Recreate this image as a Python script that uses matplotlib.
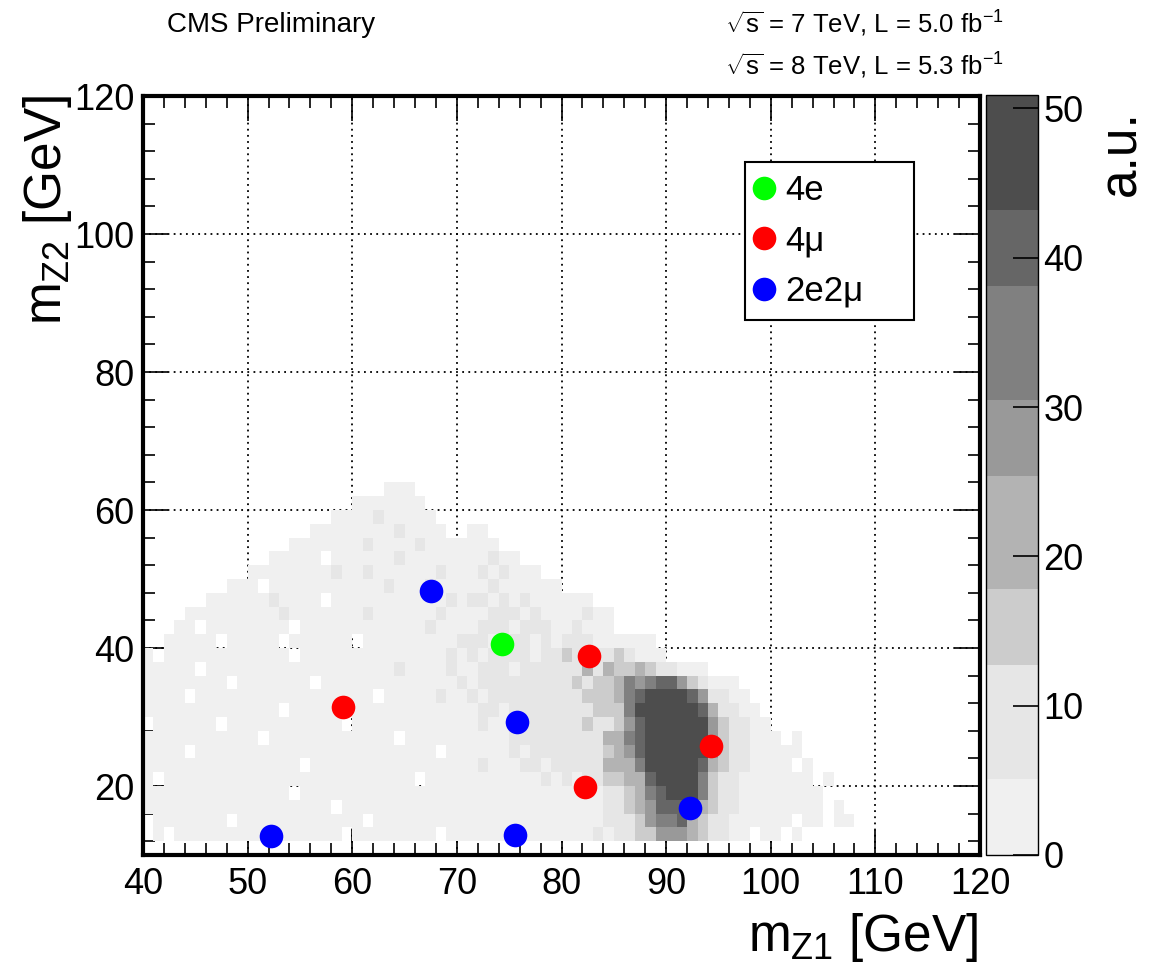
import numpy as np
import matplotlib
matplotlib.use('Agg')
import matplotlib.pyplot as plt
from matplotlib.colors import ListedColormap, BoundaryNorm
from matplotlib.lines import Line2D

plt.rcParams['font.family'] = ['Liberation Sans', 'DejaVu Sans']
plt.rcParams['mathtext.fontset'] = 'custom'
plt.rcParams['mathtext.rm'] = 'Liberation Sans'
plt.rcParams['mathtext.it'] = 'Liberation Sans'
plt.rcParams['mathtext.bf'] = 'Liberation Sans:bold'
plt.rcParams['mathtext.sf'] = 'Liberation Sans'

# ---------------- data ----------------
# observed events (m_Z1, m_Z2) in GeV
e4_mz1 = [74.3]
e4_mz2 = [40.6]
mu4_mz1 = [59.1, 82.6, 94.3, 82.2]
mu4_mz2 = [31.4, 38.8, 25.8, 19.9]
e2mu2_mz1 = [67.5, 75.7, 92.3, 52.2, 75.6]
e2mu2_mz2 = [48.3, 29.3, 16.8, 12.75, 12.9]

# expected-signal density, read as colour-band index (0 = empty, 1..8 = palette bands)
# columns: m_Z1 = 40,41,... (1 GeV); rows: m_Z2 bins of 2 GeV, listed from 62-64 down to 12-14
hist_x0 = 40
hist_dx = 1
hist_y0 = 12
hist_dy = 2
band_rows = [
    "0000000000 0000000000 0001110000",
    "0000000000 0000000000 1111111000",
    "0000000000 0000000011 1121111100",
    "0000000000 0000001111 1111211110 0110000000",
    "0000000000 0000111111 1211112111 1111000000",
    "0000000000 0011111011 1111211111 1112110000",
    "0000000000 1111111121 1211111121 1121211100",
    "0000000011 1011111111 1112111211 1112111111",
    "0000001111 1121111011 1111111112 1221212111 1110000000",
    "0000111111 1112111111 1211111121 1112221211 1121100000",
    "0001101111 1111011111 1111111211 1122212221 1211100000",
    "0011111011 1110111111 0111111111 2221222121 2221111110",
    "1011111111 1111011111 1111111112 1212222122 3222232111",
    "1111101111 1111111111 1111211112 1122212222 2242433432 2111000000",
    "1111111101 1111110111 1111111111 2122222222 2323346567 7532111000",
    "1111011111 1111111111 1101111121 1212222222 2233346788 8875221100",
    "1111111111 1110111111 1111111111 1122122222 2223336888 8887422110",
    "0111111011 1111111110 1111111111 1121112222 2232235788 8888532211",
    "1111111111 1011111111 1111011111 1111122222 2222446788 8888532211 1010000000",
    "1111011111 1111111111 1111111101 1111121222 2222345788 8888532211 1110000000",
    "1111111111 1111101111 1111111111 1121112212 2222444688 8887432211 1101000000",
    "1011111111 1111111111 1111110111 1111111121 2122334478 8886322111 1111010000",
    "1111111111 1111011111 1111111111 1111111111 1111223467 8886322111 1111100000",
    "1111111111 1111111101 1111111111 1111111111 1111223457 7774322111 1111101000",
    "0111111101 1111111111 1011111111 1111111111 1111222356 6743221111 1101101100",
    "0101111111 1111111110 1111111101 1111101111 1112122335 5543221101 1010000000",
]
# palette band edges (a.u.) and the value taken for each band index
band_edges = [0, 5.1, 12.7, 17.8, 25.4, 30.5, 38.1, 43.2, 50.9]
band_values = [np.nan, 2.5, 9.0, 15.0, 21.5, 28.0, 34.0, 40.5, 47.0]
band_colors = ['#f0f0f0', '#e6e6e6', '#cccccc', '#b3b3b3',
               '#999999', '#808080', '#666666', '#4d4d4d']

x_ticks = [40, 50, 60, 70, 80, 90, 100, 110, 120]
y_ticks = [20, 40, 60, 80, 100, 120]
cb_ticks = [0, 10, 20, 30, 40, 50]

# ---------------- build grid ----------------
ncols = 80
rows = [r.replace(' ', '').ljust(ncols, '0')[:ncols] for r in band_rows]
rows = rows[::-1]  # bottom to top
Z = np.array([[band_values[int(c)] for c in r] for r in rows])
xe = hist_x0 + hist_dx * np.arange(ncols + 1)
ye = hist_y0 + hist_dy * np.arange(len(rows) + 1)

# ---------------- figure ----------------
W, H = 1159, 969
fig = plt.figure(figsize=(W / 100, H / 100), dpi=100)
ax = fig.add_axes([143 / W, 1 - 855 / H, (980 - 143) / W, (855 - 96) / H])

cmap = ListedColormap(band_colors)
norm = BoundaryNorm(band_edges, cmap.N)
mesh = ax.pcolormesh(xe, ye, np.ma.masked_invalid(Z), cmap=cmap, norm=norm,
                     zorder=1, edgecolors='none', linewidth=0)

ax.set_xlim(40, 120)
ax.set_ylim(10, 120)
ax.set_xticks(x_ticks)
ax.set_yticks(y_ticks)
ax.set_xticks(np.arange(40, 121, 2), minor=True)
ax.set_yticks(np.arange(12, 121, 4), minor=True)
ax.set_axisbelow(True)
ax.grid(True, which='major', color='black', linestyle=(0, (1, 2.4)), linewidth=1.3)
ax.tick_params(which='both', direction='in', top=True, right=True,
               labelsize=26, width=1.2)
ax.tick_params(which='major', length=18)
ax.tick_params(which='minor', length=8.6)
ax.tick_params(axis='x', pad=9)
ax.tick_params(axis='y', pad=6)
for s in ax.spines.values():
    s.set_linewidth(3)
    s.set_zorder(5)

ax.plot(e4_mz1, e4_mz2, 'o', color='#00ff00', ms=17, mec='none', zorder=4)
ax.plot(mu4_mz1, mu4_mz2, 'o', color='#ff0000', ms=17, mec='none', zorder=4)
ax.plot(e2mu2_mz1, e2mu2_mz2, 'o', color='#0000ff', ms=17, mec='none', zorder=4)

handles = [Line2D([], [], marker='o', ls='none', color=c, ms=17, mec='none')
           for c in ['#00ff00', '#ff0000', '#0000ff']]
x0 = (745 - 143) / 837
y1 = (855 - 162) / 759
leg = ax.legend(handles, ['4e', '4μ', '2e2μ'], loc='upper left',
                bbox_to_anchor=(x0, y1 - 0.2, (914 - 745) / 837, 0.2),
                mode='expand', fontsize=25, frameon=True, fancybox=False,
                edgecolor='black', framealpha=1, borderpad=0.35,
                handlelength=0.4, handletextpad=0.4, labelspacing=0.5,
                borderaxespad=0)
leg.get_frame().set_linewidth(1.5)
leg.set_zorder(6)

# colorbar
cax = fig.add_axes([986 / W, 1 - 855 / H, (1038 - 986) / W, (855 - 95) / H])
cb = fig.colorbar(mesh, cax=cax, spacing='proportional', ticks=cb_ticks)
cb.outline.set_linewidth(1.0)
cax.tick_params(direction='in', length=18, width=1.2, labelsize=26, pad=4)
cax.minorticks_off()

# texts
fig.text(167 / W, 1 - 25 / H, 'CMS Preliminary', fontsize=20, ha='left', va='center')
fig.text(725 / W, 1 - 24 / H, r'$\sqrt{s}$ = 7 TeV, L = 5.0 fb$^{-1}$',
         fontsize=18.5, ha='left', va='center')
fig.text(725 / W, 1 - 66 / H, r'$\sqrt{s}$ = 8 TeV, L = 5.3 fb$^{-1}$',
         fontsize=18.5, ha='left', va='center')
fig.text(978 / W, 1 - 951 / H, r'$m_{Z1}$ [GeV]', fontsize=37, ha='right', va='baseline')
fig.text(48 / W, 1 - 95 / H, r'$m_{Z2}$ [GeV]', fontsize=37, ha='center', va='top',
         rotation=90)
fig.text(1122 / W, 1 - 110 / H, 'a.u.', fontsize=37, ha='center', va='top', rotation=90)

fig.savefig('out.png', dpi=100)
